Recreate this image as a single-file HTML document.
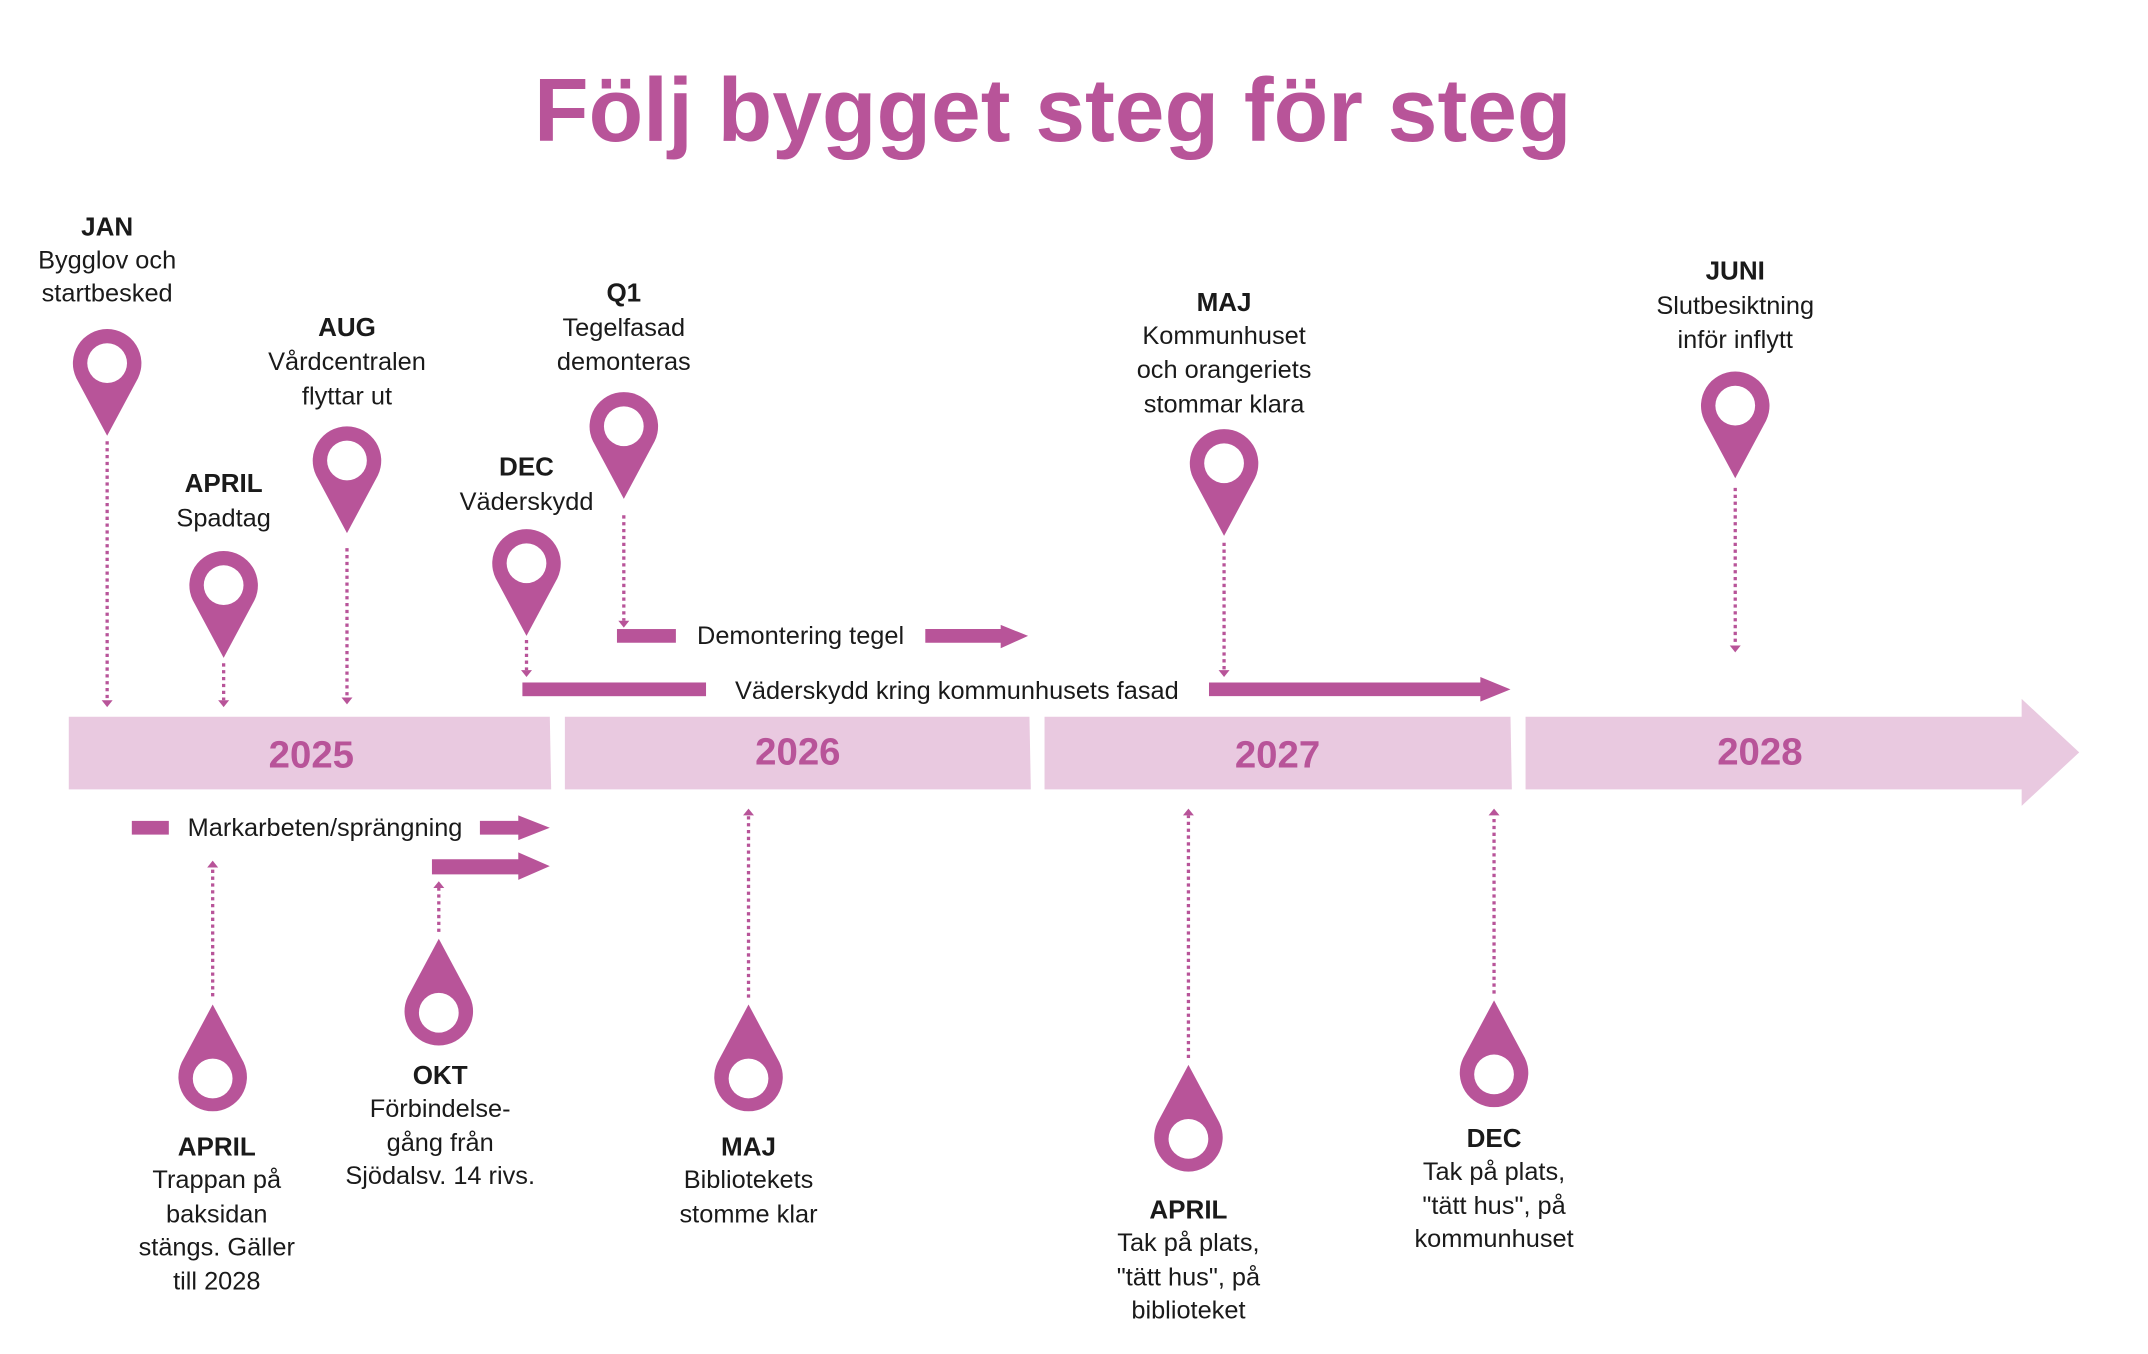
<!DOCTYPE html>
<html><head><meta charset="utf-8"><style>
html,body{margin:0;padding:0;background:#fff}
svg{display:block}
text{font-family:"Liberation Sans",sans-serif;fill:#1a1a1a;text-anchor:middle}
.b{font-weight:bold;font-size:19px}
.t{font-size:18.5px}
.y{font-weight:bold;font-size:28px;fill:#b85499}
.d{stroke:#b85499;stroke-width:2.4;stroke-dasharray:2.4 2.6;fill:none}
.p{fill:#b85499}
</style></head><body>
<svg width="2148" height="1354" viewBox="0 0 1567 988" xmlns="http://www.w3.org/2000/svg">
<defs>
<path id="pin" d="M0,52 L-22.5,10 A25,25 0 1 1 22.5,10 Z"/>
<path id="pinu" d="M0,-52 L-22.5,-10 A25,25 0 1 0 22.5,-10 Z"/>
</defs>
<rect width="1567" height="988" fill="#fff"/>
<text x="768" y="103" style="font-weight:bold;font-size:66px;fill:#b85499" textLength="757" lengthAdjust="spacingAndGlyphs">Följ bygget steg för steg</text>

<g fill="#e9c9e0">
<polygon points="50,523 401,523 402,576 50,576"/>
<polygon points="412,523 751,523 752,576 412,576"/>
<polygon points="762,523 1102,523 1103,576 762,576"/>
<polygon points="1113,523 1475,523 1475,510 1517,549 1475,588 1475,576 1113,576"/>
</g>
<text class="y" x="227" y="560">2025</text>
<text class="y" x="582" y="558">2026</text>
<text class="y" x="932" y="560">2027</text>
<text class="y" x="1284" y="558">2028</text>

<g class="p">
<rect x="450" y="459" width="43" height="10"/>
<polygon points="675,459 730,459 730,456 750,464 730,473 730,469 675,469"/>
<rect x="381" y="498" width="134" height="10"/>
<polygon points="882,498 1080,498 1080,494 1102,503 1080,512 1080,508 882,508"/>
<rect x="96" y="599" width="27" height="10"/>
<polygon points="350,599 378,599 378,595 401,604 378,613 378,609 350,609"/>
<polygon points="315,627 378,627 378,622 401,632 378,642 378,638 315,638"/>
</g>
<text class="t" x="584" y="470">Demontering tegel</text>
<text class="t" x="698" y="510">Väderskydd kring kommunhusets fasad</text>
<text class="t" x="237" y="610">Markarbeten/sprängning</text>

<g class="d">
<line x1="78" y1="322" x2="78" y2="511"/>
<line x1="163" y1="484" x2="163" y2="511"/>
<line x1="253" y1="400" x2="253" y2="509"/>
<line x1="384" y1="467" x2="384" y2="489"/>
<line x1="455" y1="376" x2="455" y2="453"/>
<line x1="893" y1="396" x2="893" y2="489"/>
<line x1="1266" y1="356" x2="1266" y2="471"/>
<line x1="155" y1="727" x2="155" y2="633"/>
<line x1="320" y1="680" x2="320" y2="648"/>
<line x1="546" y1="728" x2="546" y2="595"/>
<line x1="867" y1="772" x2="867" y2="595"/>
<line x1="1090" y1="725" x2="1090" y2="595"/>
</g>
<g class="p">
<polygon points="74,511 82,511 78,516"/>
<polygon points="159,511 167,511 163,516"/>
<polygon points="249,509 257,509 253,514"/>
<polygon points="380,489 388,489 384,494"/>
<polygon points="451,453 459,453 455,458"/>
<polygon points="889,489 897,489 893,494"/>
<polygon points="1262,471 1270,471 1266,476"/>
<polygon points="151,633 159,633 155,628"/>
<polygon points="316,648 324,648 320,643"/>
<polygon points="542,595 550,595 546,590"/>
<polygon points="863,595 871,595 867,590"/>
<polygon points="1086,595 1094,595 1090,590"/>
</g>

<g class="p">
<use href="#pin" x="78" y="266"/>
<use href="#pin" x="163" y="428"/>
<use href="#pin" x="253" y="337"/>
<use href="#pin" x="384" y="412"/>
<use href="#pin" x="455" y="312"/>
<use href="#pin" x="893" y="339"/>
<use href="#pin" x="1266" y="297"/>
<use href="#pinu" x="155" y="785"/>
<use href="#pinu" x="320" y="737"/>
<use href="#pinu" x="546" y="785"/>
<use href="#pinu" x="867" y="829"/>
<use href="#pinu" x="1090" y="782"/>
</g>
<g fill="#fff">
<circle cx="78" cy="265" r="14.5"/>
<circle cx="163" cy="427" r="14.5"/>
<circle cx="253" cy="336" r="14.5"/>
<circle cx="384" cy="411" r="14.5"/>
<circle cx="455" cy="311" r="14.5"/>
<circle cx="893" cy="338" r="14.5"/>
<circle cx="1266" cy="296" r="14.5"/>
<circle cx="155" cy="787" r="14.5"/>
<circle cx="320" cy="739" r="14.5"/>
<circle cx="546" cy="787" r="14.5"/>
<circle cx="867" cy="831" r="14.5"/>
<circle cx="1090" cy="784" r="14.5"/>
</g>

<text class="b" x="78" y="172">JAN</text>
<text class="t" x="78" y="196">Bygglov och</text>
<text class="t" x="78" y="220">startbesked</text>
<text class="b" x="163" y="359">APRIL</text>
<text class="t" x="163" y="384">Spadtag</text>
<text class="b" x="253" y="245">AUG</text>
<text class="t" x="253" y="270">Vårdcentralen</text>
<text class="t" x="253" y="295">flyttar ut</text>
<text class="b" x="384" y="347">DEC</text>
<text class="t" x="384" y="372">Väderskydd</text>
<text class="b" x="455" y="220">Q1</text>
<text class="t" x="455" y="245">Tegelfasad</text>
<text class="t" x="455" y="270">demonteras</text>
<text class="b" x="893" y="227">MAJ</text>
<text class="t" x="893" y="251">Kommunhuset</text>
<text class="t" x="893" y="276">och orangeriets</text>
<text class="t" x="893" y="301">stommar klara</text>
<text class="b" x="1266" y="204">JUNI</text>
<text class="t" x="1266" y="229">Slutbesiktning</text>
<text class="t" x="1266" y="254">inför inflytt</text>

<text class="b" x="158" y="843">APRIL</text>
<text class="t" x="158" y="867">Trappan på</text>
<text class="t" x="158" y="892">baksidan</text>
<text class="t" x="158" y="916">stängs. Gäller</text>
<text class="t" x="158" y="941">till 2028</text>
<text class="b" x="321" y="791">OKT</text>
<text class="t" x="321" y="815">Förbindelse-</text>
<text class="t" x="321" y="840">gång från</text>
<text class="t" x="321" y="864">Sjödalsv. 14 rivs.</text>
<text class="b" x="546" y="843">MAJ</text>
<text class="t" x="546" y="867">Bibliotekets</text>
<text class="t" x="546" y="892">stomme klar</text>
<text class="b" x="867" y="889">APRIL</text>
<text class="t" x="867" y="913">Tak på plats,</text>
<text class="t" x="867" y="938">"tätt hus", på</text>
<text class="t" x="867" y="962">biblioteket</text>
<text class="b" x="1090" y="837">DEC</text>
<text class="t" x="1090" y="861">Tak på plats,</text>
<text class="t" x="1090" y="886">"tätt hus", på</text>
<text class="t" x="1090" y="910">kommunhuset</text>
</svg>
</body></html>
